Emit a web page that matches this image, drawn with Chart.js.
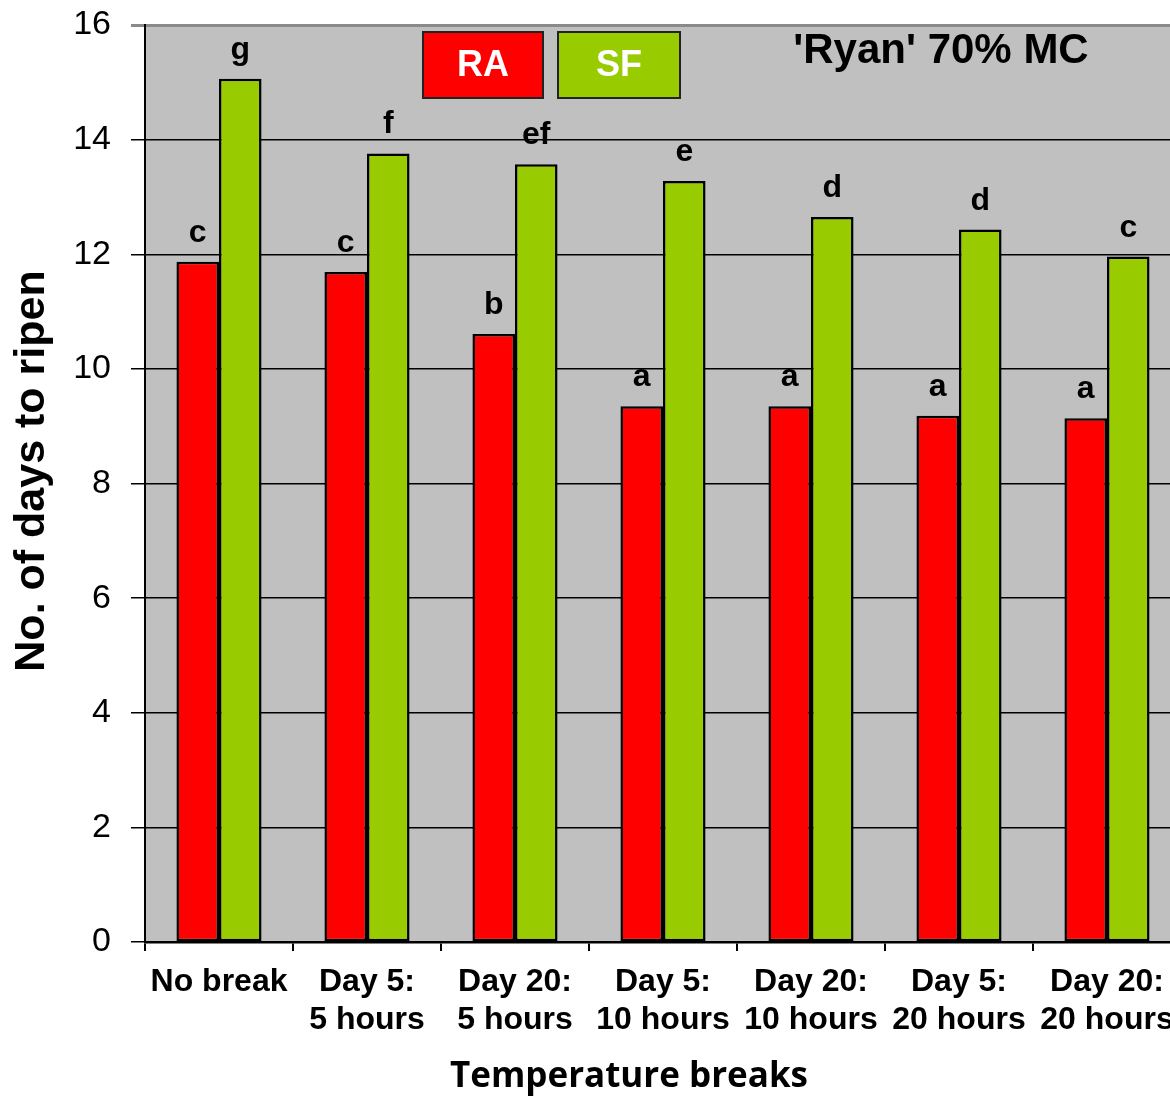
<!DOCTYPE html>
<html>
<head>
<meta charset="utf-8">
<script src="https://cdn.jsdelivr.net/npm/chart.js@4.4.1/dist/chart.umd.min.js"></script>
<style>
html,body{margin:0;padding:0;background:#fff;overflow:hidden;width:1170px;height:1099px;}
canvas{display:block;}
</style>
</head>
<body>
<canvas id="c" width="1190" height="1099"></canvas>
<script>
const categories = [["No break"],["Day 5:","5 hours"],["Day 20:","5 hours"],["Day 5:","10 hours"],["Day 20:","10 hours"],["Day 5:","20 hours"],["Day 20:","20 hours"]];
const raValues = [11.87, 11.69, 10.61, 9.35, 9.35, 9.18, 9.14];
const sfValues = [15.06, 13.76, 13.57, 13.28, 12.65, 12.43, 11.96];
const raLetters = ["c","c","b","a","a","a","a"];
const sfLetters = ["g","f","ef","e","d","d","c"];
const yTicks = [0,2,4,6,8,10,12,14,16];
const seriesNames = ["RA","SF"];
const chartTitle = "'Ryan' 70% MC";
const xTitle = "Temperature breaks";
const yTitle = "No. of days to ripen";

const RED = "#ff0000", GREEN = "#99cc00";

const decor = {
  id: 'decor',
  beforeDraw(chart) {
    const {ctx, chartArea: a} = chart;
    ctx.save();
    ctx.fillStyle = '#c0c0c0';
    ctx.fillRect(a.left, a.top, a.right - a.left, a.bottom - a.top);
    ctx.restore();
  },
  afterDatasetsDraw(chart) {
    const ctx = chart.ctx;
    ctx.save();
    ctx.fillStyle = '#000';
    ctx.font = 'bold 32px "Liberation Sans", Arial, sans-serif';
    ctx.textAlign = 'center';
    ctx.textBaseline = 'alphabetic';
    [raLetters, sfLetters].forEach((letters, di) => {
      chart.getDatasetMeta(di).data.forEach((bar, i) => {
        ctx.fillText(letters[i], bar.x, bar.y - 20);
      });
    });
    // legend boxes
    const boxes = [{x:423,w:120,c:RED},{x:558,w:122,c:GREEN}];
    boxes.forEach((b, i) => {
      ctx.fillStyle = b.c;
      ctx.fillRect(b.x, 32, b.w, 66);
      ctx.strokeStyle = '#222';
      ctx.lineWidth = 2;
      ctx.strokeRect(b.x, 32, b.w, 66);
      ctx.fillStyle = '#fff';
      ctx.font = 'bold 36px "Liberation Sans", Arial, sans-serif';
      ctx.textBaseline = 'middle';
      ctx.fillText(seriesNames[i], b.x + b.w / 2, 66);
    });
    // title
    ctx.fillStyle = '#000';
    ctx.font = 'bold 42px "Liberation Sans", Arial, sans-serif';
    ctx.textBaseline = 'middle';
    ctx.fillText(chartTitle, 941, 51);
    // x title
    ctx.font = 'bold 36px "Open Sans", sans-serif';
    const w = ctx.measureText(xTitle).width;
    const fs = 36 * 358 / w;
    ctx.font = 'bold ' + fs.toFixed(1) + 'px "Open Sans", sans-serif';
    ctx.fillText(xTitle, 629, 1077);
    // y title
    ctx.translate(32, 471);
    ctx.rotate(-Math.PI / 2);
    ctx.font = 'bold 43px "Liberation Sans", Arial, sans-serif';
    ctx.fillText(yTitle, 0, 0);
    ctx.restore();
  }
};

new Chart(document.getElementById('c'), {
  type: 'bar',
  data: {
    labels: categories,
    datasets: [
      {label: seriesNames[0], data: raValues, backgroundColor: RED, borderColor: '#000', borderWidth: 2.5, borderSkipped: false},
      {label: seriesNames[1], data: sfValues, backgroundColor: GREEN, borderColor: '#000', borderWidth: 2.5, borderSkipped: false}
    ]
  },
  options: {
    responsive: false,
    animation: false,
    events: [],
    layout: {padding: {top: 25, right: 9, left: 0, bottom: 0}},
    plugins: {legend: {display: false}, tooltip: {enabled: false}, title: {display: false}},
    datasets: {bar: {categoryPercentage: 0.575, barPercentage: 1.0}},
    scales: {
      x: {
        grid: {offset: true, drawOnChartArea: false, color: '#000', lineWidth: 2, tickLength: 9},
        border: {display: true, color: '#000', width: 2.5},
        ticks: {color: '#000', font: {family: '"Liberation Sans", Arial, sans-serif', size: 32, weight: 'bold', lineHeight: 1.16}, padding: 13, maxRotation: 0, autoSkip: false},
        afterFit(s) { s.height = 157; s.paddingLeft = 0; s.paddingRight = 0; }
      },
      y: {
        min: 0, max: 16,
        afterBuildTicks(s) { s.ticks = yTicks.map(v => ({value: v})); },
        grid: {
          color: ctx => ctx.tick && ctx.tick.value === 16 ? '#8a8a8a' : '#000',
          lineWidth: ctx => ctx.tick && ctx.tick.value === 16 ? 3 : 1.5,
          tickLength: 14
        },
        border: {display: true, color: '#000', width: 2},
        ticks: {color: '#000', font: {family: '"Liberation Sans", Arial, sans-serif', size: 34}, padding: 20},
        afterFit(s) { s.width = 145; s.paddingTop = 0; s.paddingBottom = 0; }
      }
    }
  },
  plugins: [decor]
});
</script>
</body>
</html>
